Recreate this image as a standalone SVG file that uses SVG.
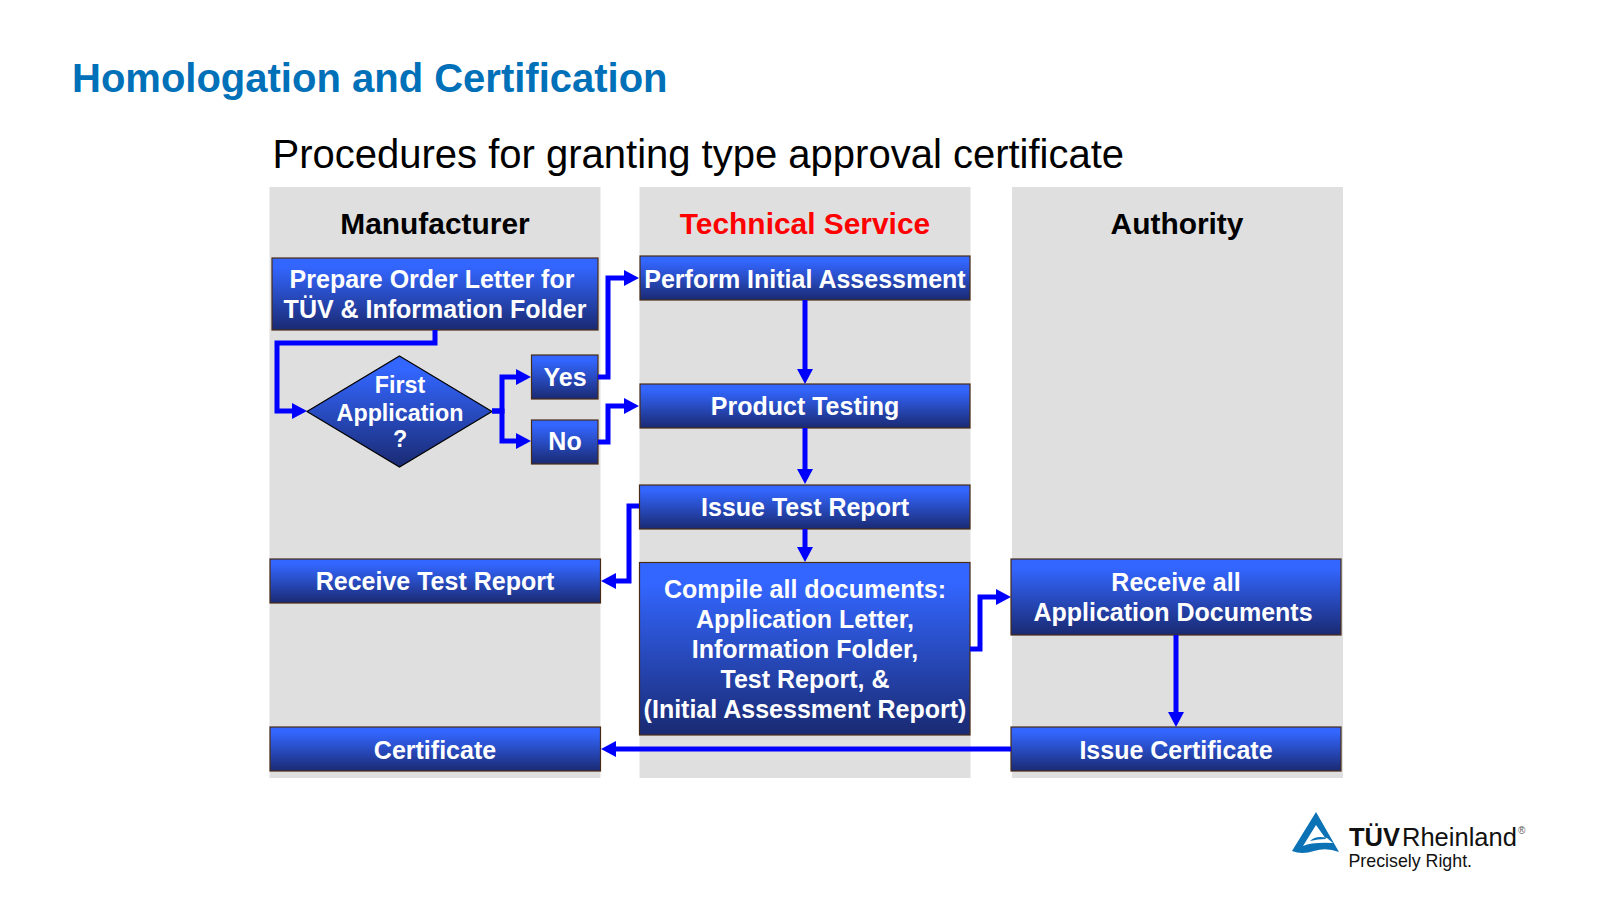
<svg xmlns="http://www.w3.org/2000/svg" width="1600" height="900" viewBox="0 0 1600 900">
<style>
text{font-family:"Liberation Sans",Arial,sans-serif}
.lane{fill:#dfdfdf}
.box{fill:url(#g);stroke:#4a2c14;stroke-width:1.2}
.dia{fill:url(#g);stroke:#000;stroke-width:1.2}
.t{fill:#fff;font-weight:bold;font-size:25px;text-anchor:middle;transform:translateY(-0.7px)}
.d{font-size:23.3px}
.h{font-weight:bold;font-size:29.9px;text-anchor:middle;transform:translateY(-0.8px)}
.c{fill:none;stroke:#0000ff;stroke-width:5;marker-end:url(#a)}
</style>
<defs>
<linearGradient id="g" x1="0" y1="0" x2="0" y2="1"><stop offset="0.12" stop-color="#3366ff"/><stop offset="1" stop-color="#1a2a72"/></linearGradient>
<marker id="a" markerUnits="userSpaceOnUse" markerWidth="15" markerHeight="16" refX="1" refY="8" orient="auto"><path d="M0 0L15 8L0 16Z" fill="#0000ff"/></marker>
</defs>
<rect width="1600" height="900" fill="#fff"/>
<text x="72" y="92" font-size="40" font-weight="bold" fill="#0070b8">Homologation and Certification</text>
<text x="272.500" y="167.500" font-size="40" fill="#000">Procedures for granting type approval certificate</text>
<g id="lanes">
<rect class="lane" x="269.500" y="187" width="331" height="591"/>
<rect class="lane" x="639.500" y="187" width="331" height="591"/>
<rect class="lane" x="1012" y="187" width="331" height="591"/>
<text class="h" x="435" y="234.500">Manufacturer</text>
<text class="h" x="805" y="234.500" fill="#ff0000">Technical Service</text>
<text class="h" x="1177" y="234.500">Authority</text>
</g>
<g id="nodes">
<g id="n-prepare"><rect class="box" x="272" y="258" width="326" height="72"/><text class="t" x="432" y="288.500">Prepare Order Letter for</text><text class="t" x="435" y="318.500">TÜV &amp; Information Folder</text></g>
<g id="n-first"><path class="dia" d="M399.500 356L492 411.500L399.500 467L307 411.500Z"/><text class="t d" x="400" y="393.500">First</text><text class="t d" x="400" y="422">Application</text><text class="t d" x="400" y="448">?</text></g>
<g id="n-yes"><rect class="box" x="531.500" y="355" width="66.500" height="44"/><text class="t" x="565" y="386.500">Yes</text></g>
<g id="n-no"><rect class="box" x="531.500" y="420" width="66.500" height="44"/><text class="t" x="565" y="451">No</text></g>
<g id="n-perform"><rect class="box" x="640" y="256" width="330" height="44"/><text class="t" x="805" y="288.500">Perform Initial Assessment</text></g>
<g id="n-testing"><rect class="box" x="640" y="384" width="330" height="44"/><text class="t" x="805" y="415.500">Product Testing</text></g>
<g id="n-issue-report"><rect class="box" x="639.500" y="485" width="330.500" height="44"/><text class="t" x="805" y="516.500">Issue Test Report</text></g>
<g id="n-compile"><rect class="box" x="639.500" y="562.500" width="330.500" height="172.500"/><text class="t" x="805" y="598.500">Compile all documents:</text><text class="t" x="805" y="628.500">Application Letter,</text><text class="t" x="805" y="658.500">Information Folder,</text><text class="t" x="805" y="688.500">Test Report, &amp;</text><text class="t" x="805" y="718.500">(Initial Assessment Report)</text></g>
<g id="n-receive-report"><rect class="box" x="270" y="559" width="330.500" height="44"/><text class="t" x="435" y="590.500">Receive Test Report</text></g>
<g id="n-receive-docs"><rect class="box" x="1011" y="559" width="330" height="76"/><text class="t" x="1176" y="591.500">Receive all</text><text class="t" x="1173" y="621.500">Application Documents</text></g>
<g id="n-certificate"><rect class="box" x="270" y="727" width="330.500" height="44"/><text class="t" x="435" y="759.500">Certificate</text></g>
<g id="n-issue-cert"><rect class="box" x="1011" y="727" width="330" height="44"/><text class="t" x="1176" y="759.500">Issue Certificate</text></g>
</g>
<g id="connectors">
<path class="c" d="M435 330V343H277V411H293"/>
<path class="c" d="M492 411H502V377H517"/>
<path class="c" d="M492 411H502V441H517"/>
<path class="c" d="M598 377H608V278H625"/>
<path class="c" d="M598 442H608V406H625"/>
<path class="c" d="M805 300V370"/>
<path class="c" d="M805 428V470"/>
<path class="c" d="M805 529V548"/>
<path class="c" d="M639 506H629V581H615"/>
<path class="c" d="M970 649H980V597H997"/>
<path class="c" d="M1176 635V713"/>
<path class="c" d="M1011 749H615"/>
</g>
<g id="logo">
<path fill="#0b72b5" fill-rule="evenodd" d="M1316 812L1339 852Q1326 847 1314 851Q1302 855 1292 851ZM1316 825L1303 846Q1312 842 1333 843L1327 838Q1316 835 1310 841Q1318 839 1326 839Z"/>
<text x="1349" y="845.500" font-size="25.500" font-weight="bold" fill="#111">TÜV</text>
<text x="1402" y="845.500" font-size="25.500" fill="#111">Rheinland</text>
<text x="1518" y="834" font-size="10" fill="#555">®</text>
<text x="1348.500" y="867" font-size="17.800" fill="#111">Precisely Right.</text>
</g>
</svg>
